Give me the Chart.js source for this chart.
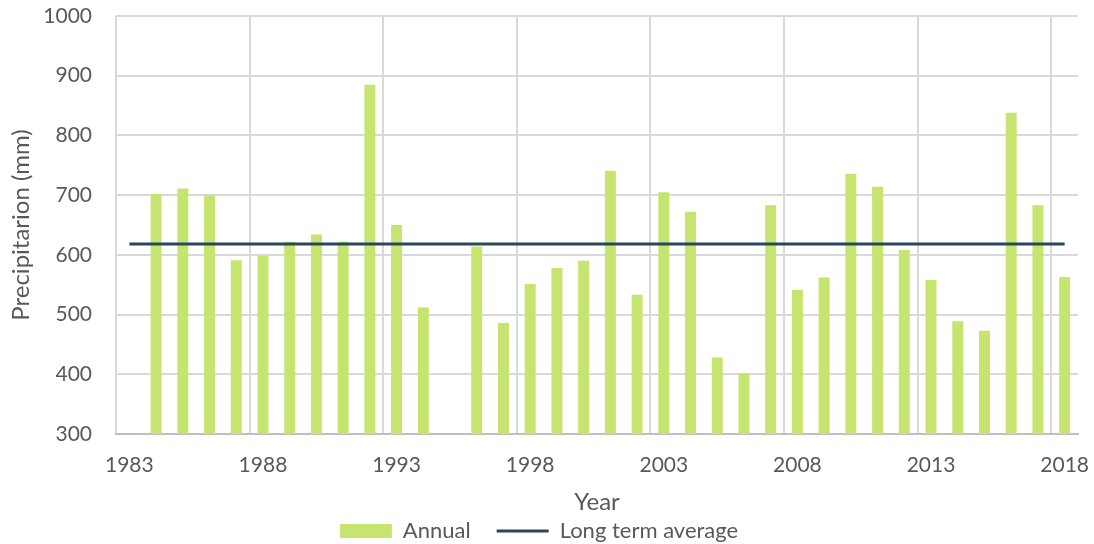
<!DOCTYPE html>
<html>
<head>
<meta charset="utf-8">
<script src="https://cdn.jsdelivr.net/npm/chart.js@4"></script>
<style>
  html, body { margin: 0; padding: 0; background: #ffffff; }
  #wrap { width: 1094px; height: 544px; }
</style>
</head>
<body>
<div id="wrap"><canvas id="chart" width="1094" height="544"></canvas></div>
<script>
// Years on the category axis
const years = [
  '1983','1984','1985','1986','1987','1988','1989','1990','1991','1992',
  '1993','1994','1995','1996','1997','1998','1999','2000','2001','2002',
  '2003','2004','2005','2006','2007','2008','2009','2010','2011','2012',
  '2013','2014','2015','2016','2017','2018'
];
// Annual precipitation, mm (no record for 1983 and 1995)
const annual = [
  null, 702, 711, 700, 591, 598, 622, 634, 622, 885,
  650, 512, null, 614, 486, 551, 578, 590, 741, 533,
  705, 672, 428, 402, 683, 541, 562, 736, 714, 608,
  558, 489, 473, 838, 683, 563
];
// Long term average precipitation, mm
const longTermAverage = 618;
// Years that carry a tick label and a vertical grid line
const labelledYears = ['1983','1988','1993','1998','2003','2008','2013','2018'];
// Value axis range and step
const yMin = 300, yMax = 1000, yStep = 100;

const textColor = '#595959';
const gridColor = '#d9d9d9';
const fontFamily = 'Lato, "Open Sans", sans-serif';

const ctx = document.getElementById('chart').getContext('2d');
new Chart(ctx, {
  data: {
    labels: years,
    datasets: [
      {
        type: 'bar',
        label: 'Annual',
        data: annual,
        backgroundColor: '#c5e570',
        borderWidth: 0,
        categoryPercentage: 1.0,
        barPercentage: 0.41,
        pointStyle: 'rect',
        order: 2
      },
      {
        type: 'line',
        label: 'Long term average',
        data: years.map(() => longTermAverage),
        borderColor: '#27485a',
        backgroundColor: '#27485a',
        borderWidth: 3,
        pointRadius: 0,
        pointHoverRadius: 0,
        pointStyle: 'line',
        fill: false,
        order: 1
      }
    ]
  },
  options: {
    responsive: false,
    animation: false,
    layout: { autoPadding: false, padding: { top: 16, right: 16, bottom: -8, left: 0 } },
    plugins: {
      tooltip: { enabled: false },
      legend: {
        position: 'bottom',
        labels: {
          color: textColor,
          font: { family: fontFamily, size: 22 },
          usePointStyle: true,
          pointStyleWidth: 52,
          boxHeight: 14,
          padding: 26,
          sort: (a, b) => a.datasetIndex - b.datasetIndex
        }
      }
    },
    scales: {
      x: {
        type: 'category',
        offset: true,
        grid: {
          offset: true,
          drawTicks: false,
          color: (c) => (c.index !== undefined && c.index < years.length &&
                          labelledYears.includes(years[c.index])) ? gridColor : 'transparent',
          lineWidth: 2
        },
        border: { display: true, color: '#bfbfbf', width: 2 },
        ticks: {
          autoSkip: false,
          maxRotation: 0,
          minRotation: 0,
          padding: 19,
          color: textColor,
          font: { family: fontFamily, size: 21 },
          callback: function (value, index) {
            const y = years[index];
            return labelledYears.includes(y) ? y : '';
          }
        },
        title: {
          display: true,
          text: 'Year',
          color: textColor,
          font: { family: fontFamily, size: 24 },
          padding: { top: 0, bottom: -23 }
        },
        afterFit: (scale) => {
          scale.height = 60;
          scale.paddingLeft = 0;
          scale.paddingRight = 0;
        }
      },
      y: {
        min: yMin,
        max: yMax,
        grid: { color: gridColor, lineWidth: 2, drawTicks: false },
        border: { display: false },
        ticks: {
          stepSize: yStep,
          padding: 24,
          color: textColor,
          font: { family: fontFamily, size: 21 },
          callback: (v) => String(v)
        },
        title: {
          display: true,
          text: 'Precipitarion (mm)',
          color: textColor,
          font: { family: fontFamily, size: 24 },
          padding: { top: 7, bottom: 0 }
        },
        afterFit: (scale) => {
          scale.width = 116;
          scale.paddingTop = 0;
          scale.paddingBottom = 0;
        }
      }
    }
  }
});
</script>
</body>
</html>
